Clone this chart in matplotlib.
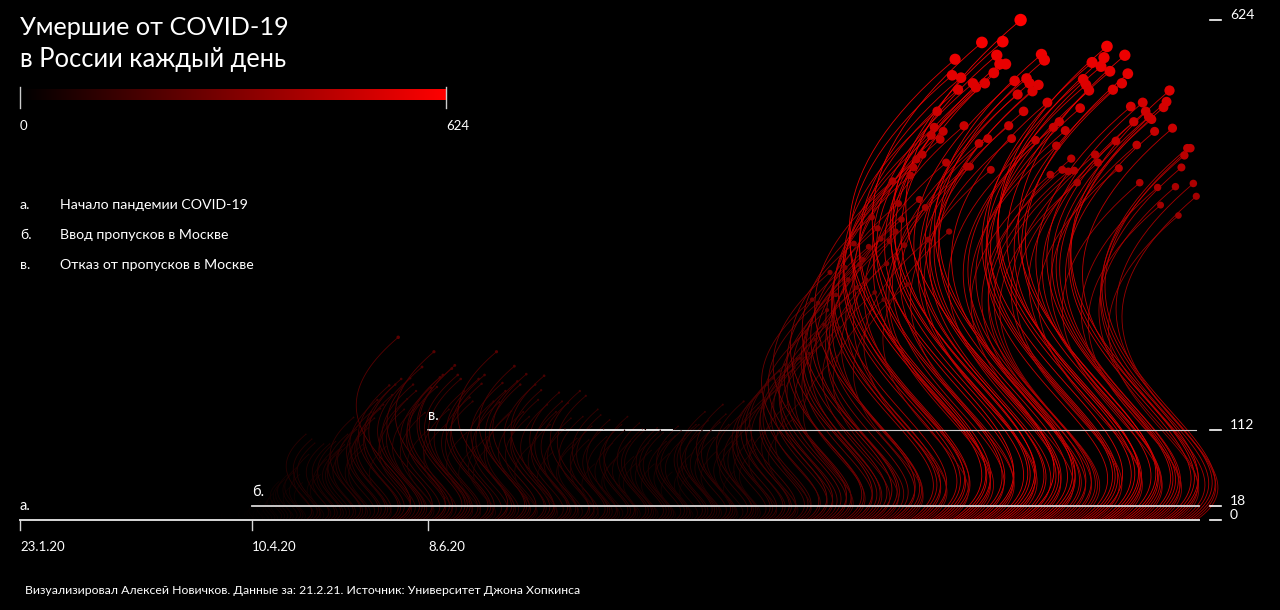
import numpy as np
import matplotlib.pyplot as plt
from matplotlib.collections import LineCollection
from matplotlib.colors import LinearSegmentedColormap

plt.rcParams['font.family'] = ['Lato', 'DejaVu Sans']

# daily deaths, day 0 = 23.1.20, last day = 21.2.21
deaths = [
    0, 0, 0, 0, 0, 0, 0, 0, 0, 0, 0, 0, 0, 0,
    0, 0, 0, 0, 0, 0, 0, 0, 0, 0, 0, 0, 0, 0,
    0, 0, 0, 0, 0, 0, 0, 0, 0, 0, 0, 0, 0, 0,
    0, 0, 0, 0, 0, 0, 0, 0, 0, 0, 0, 0, 0, 0,
    # march 19 - 31
    1, 0, 0, 0, 0, 0, 1, 1, 1, 0, 5, 0, 8,
    # april 1 - 10
    7, 2, 9, 4, 2, 11, 6, 11, 13, 18,
    # april 11 - 30
    12, 12, 24, 13, 22, 28, 33, 28, 48, 48, 51, 57, 42, 60, 66, 57, 47, 107, 82, 101,
    # may 1 - 21
    96, 58, 57, 95, 76, 95, 86, 98, 88, 88, 94, 107, 96, 128, 113, 119, 94, 91, 115, 135, 127,
    # may 22 - 30
    150, 139, 144, 92, 168, 156, 169, 228, 176,
    # day 129 - 229
    138, 151, 177, 169, 161, 144, 191, 134, 112, 165,
    210, 166, 178, 181, 119, 138, 189, 193, 181, 176,
    161, 109, 153, 148, 92, 176, 170, 181, 104, 93,
    148, 210, 147, 171, 161, 131, 136, 192, 173, 169,
    135, 182, 129, 95, 169, 150, 162, 180, 144, 119,
    85, 135, 159, 148, 114, 146, 127, 94, 102, 161,
    129, 155, 100, 117, 70, 138, 131, 114, 104, 125,
    96, 75, 80, 119, 112, 129, 98, 79, 71, 121,
    114, 113, 96, 87, 70, 115, 112, 109, 98, 83,
    60, 105, 117, 111, 102, 69, 56, 84, 119, 119, 112,
    # day 230 - 259
    135, 124, 112, 103, 86, 122, 144, 132, 119, 98,
    61, 98, 131, 148, 125, 118, 102, 88, 140, 160,
    152, 169, 117, 177, 163, 186, 169, 194, 145, 124,
    # day 260 - 395
    190, 201, 202, 150, 235, 208, 275, 225, 271, 219,
    244, 262, 309, 250, 281, 240, 210, 315, 300, 266,
    345, 290, 319, 325, 300, 341, 378, 284, 364, 351,
    275, 320, 348, 423, 360, 395, 375, 343, 294, 430,
    440, 450, 400, 456, 390, 350, 480, 490, 510, 475,
    485, 446, 360, 555, 575, 537, 552, 492, 441, 441,
    545, 540, 470, 596, 545, 476, 437, 558, 580, 569,
    597, 569, 492, 476, 548, 531, 624, 510, 551, 545,
    535, 474, 543, 581, 574, 521, 431, 490, 467, 497,
    437, 486, 435, 451, 436, 421, 514, 550, 543, 536,
    571, 456, 446, 566, 577, 591, 560, 537, 473, 439,
    545, 580, 557, 516, 497, 468, 421, 521, 510, 503,
    500, 485, 415, 393, 515, 522, 536, 489, 416, 380,
    440, 455, 464, 464, 420, 404,
]

vmax = 624
marks_day = [0, 78, 137]
marks_label = ['а.', 'б.', 'в.']
marks_date = ['23.1.20', '10.4.20', '8.6.20']
marks_text = ['Начало пандемии COVID-19', 'Ввод пропусков в Москве', 'Отказ от пропусков в Москве']
right_ticks = [624, 112, 18, 0]

W, H = 1280, 610
xpx = 2.978            # pixels per day
ypx = 500 / 624        # pixels per death
x0px, y0px = 20, 520   # where day 0 / zero deaths sit

fig = plt.figure(figsize=(W / 100, H / 100), dpi=100, facecolor='black')
ax = fig.add_axes([0, 0, 1, 1])
ax.set_facecolor('black')
ax.set_xlim(-x0px / xpx, (W - x0px) / xpx)
ax.set_ylim(-(H - y0px) / ypx, y0px / ypx)
ax.axis('off')

def ftxt(x, y, s, **kw):
    # place text with pixel coords, origin top-left
    kw.setdefault('color', 'white')
    fig.text(x / W, 1 - y / H, s, **kw)

cmap = LinearSegmentedColormap.from_list('blk_red', ['#000000', '#ff0000'])

# s-shaped bezier, in units of the curve height
t = np.linspace(0, 1, 70)
bx = 3 * (1 - t) ** 2 * t * (-0.65) + 3 * (1 - t) * t ** 2 * 0.32
by = (1 - t) ** 3 + 3 * (1 - t) ** 2 * t * 0.45 + 3 * (1 - t) * t ** 2 * 0.22

vals = np.array(deaths, dtype=float)
days = np.arange(len(vals))

segs, cols = [], []
for d, v in zip(days, vals):
    if v <= 0:
        continue
    hp = v * ypx
    xs = d + bx * hp / xpx
    ys = by * v
    segs.append(np.column_stack([xs, ys]))
    cols.append(cmap(v / vmax))
ax.add_collection(LineCollection(segs, colors=cols, linewidths=0.6, alpha=0.95, zorder=2))

# guide lines
ax.plot([0, 396], [0, 0], color='#d8d8d8', lw=1.4, zorder=3)
ax.plot([78, 396], [18, 18], color='#d8d8d8', lw=1.3, zorder=3)
ax.plot([137, 219], [112, 112], color='#e0e0e0', lw=1.4, zorder=3)
ax.plot([219, 395], [112, 112], color='#cfcfcf', lw=0.8, zorder=3)
for d in marks_day:
    ax.plot([d, d], [0, -13], color='#d8d8d8', lw=1, zorder=3)

# dots
m = vals > 0
r = 6.2 * (vals[m] / vmax) ** 1.25
ax.scatter(days[m], vals[m], s=(2 * r * 0.72) ** 2, c=vals[m], cmap=cmap,
           vmin=0, vmax=vmax, linewidths=0, zorder=4)

# title
ftxt(20, 35, 'Умершие от COVID-19', fontsize=18.2, va='baseline')
ftxt(20, 67, 'в России каждый день', fontsize=18.4, va='baseline')

# color scale
cax = fig.add_axes([20 / W, 1 - 100 / H, 426 / W, 11 / H])
cax.imshow(np.linspace(0, 1, 256)[None, :], aspect='auto', cmap=cmap)
cax.axis('off')
for xx in (20, 446):
    fig.add_artist(plt.Line2D([xx / W, xx / W], [1 - 87 / H, 1 - 108 / H],
                              color='#cccccc', lw=1))
ftxt(20, 126, '0', fontsize=9.5, va='center')
ftxt(446, 126, '624', fontsize=9.5, va='center')

# legend
for i, (lab, txt) in enumerate(zip(marks_label, marks_text)):
    ftxt(20, 205 + 30 * i, lab, fontsize=10.2, va='center')
    ftxt(60, 205 + 30 * i, txt, fontsize=10.2, va='center')

# marks on chart
for d, lab, v in zip(marks_day, marks_label, [0, 18, 112]):
    ftxt(x0px + d * xpx, y0px - v * ypx - 14, lab, fontsize=10.5, va='center')
for d, lab in zip(marks_day, marks_date):
    ftxt(x0px + d * xpx, 547, lab, fontsize=9.5, va='center')

# right scale
for v in right_ticks:
    yp = y0px - v * ypx
    fig.add_artist(plt.Line2D([1210 / W, 1221 / W], [1 - yp / H] * 2,
                              color='white', lw=1.2))
    ftxt(1230, yp - 5, str(v), fontsize=10, va='center')

ftxt(25, 591, 'Визуализировал Алексей Новичков. Данные за: 21.2.21. Источник: Университет Джона Хопкинса',
     fontsize=8.8, va='center')

fig.savefig('out.png', dpi=100, facecolor='black')
